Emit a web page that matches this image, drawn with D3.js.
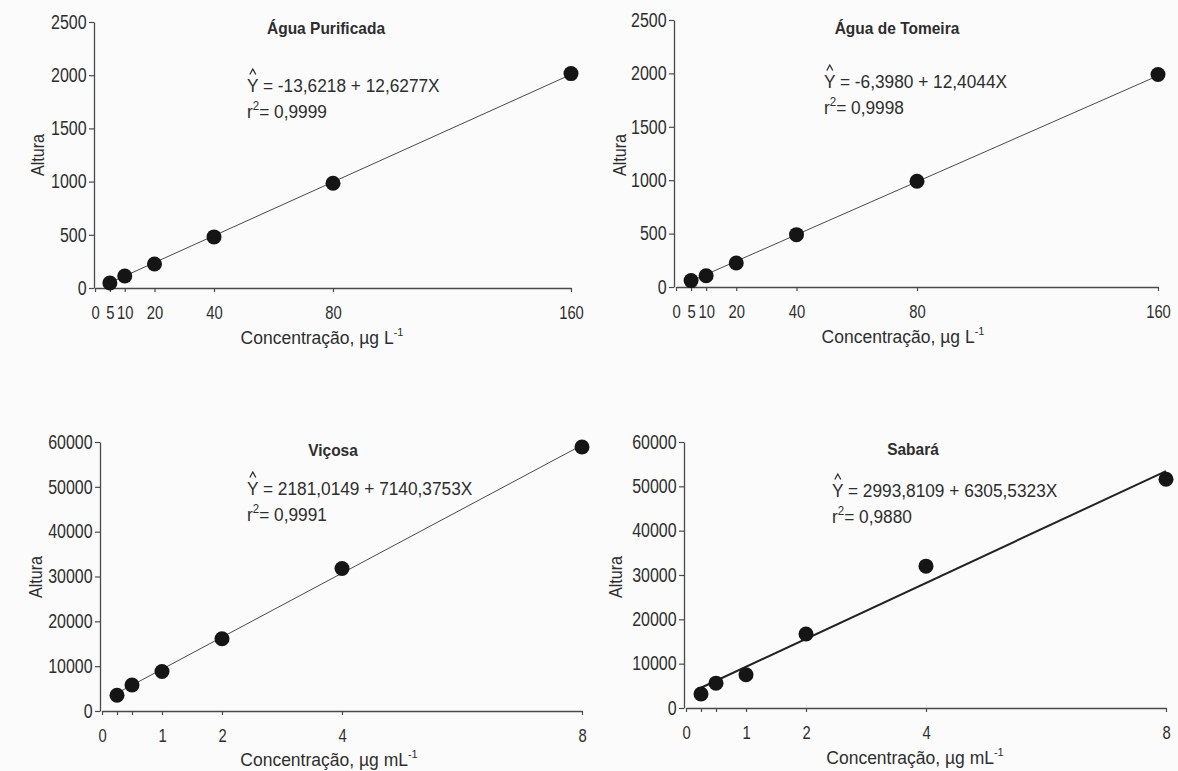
<!DOCTYPE html>
<html>
<head>
<meta charset="utf-8">
<script src="https://cdn.jsdelivr.net/npm/d3@7"></script>
<style>
  body { margin: 0; background: #fbfbfb; }
  svg { display: block; }
  text { font-family: "Liberation Sans", Arial, sans-serif; fill: #2e2e2e; }
  .domain, .tick line { stroke: #4a4a4a; }
</style>
</head>
<body>
<svg id="chart" width="1178" height="771"></svg>
<script>
// concentrations (x values)
const concL = [5, 10, 20, 40, 80, 160];
const concMl = [0.25, 0.5, 1, 2, 4, 8];

const puraY = [47, 113, 226, 480, 985, 2015];
const tomeiraY = [60, 105, 225, 490, 990, 1990];
const vicosaY = [3500, 5800, 8800, 16100, 31800, 58900];
const sabaraY = [3150, 5600, 7500, 16700, 32000, 51600];

// tick labels
const ticksL = [0, 5, 10, 20, 40, 80, 160];
const ticksMl = [0, 0.25, 0.5, 1, 2, 4, 8];
const labelsMl = [0, 1, 2, 4, 8];
const yTicksTop = [0, 500, 1000, 1500, 2000, 2500];
const yTicksBottom = [0, 10000, 20000, 30000, 40000, 50000, 60000];

// titles and fitted equations
const titles = ["Água Purificada", "Água de Tomeira", "Viçosa", "Sabará"];
const intercepts = [-13.6218, -6.3980, 2181.0149, 2993.8109];
const slopes = [12.6277, 12.4044, 7140.3753, 6305.5323];
const interceptTxt = ["-13,6218", "-6,3980", "2181,0149", "2993,8109"];
const slopeTxt = ["12,6277", "12,4044", "7140,3753", "6305,5323"];
const r2Txt = ["0,9999", "0,9998", "0,9991", "0,9880"];

const panels = [
  { xs: concL, ys: puraY, xMax: 160, yMax: 2500, xTicks: ticksL, xLabels: ticksL, yTicks: yTicksTop,
    unit: "L", ax: 94, px: [95, 571], py: [288, 22], eq: [247, 92], title: [326, 34],
    yl: [38, 155], xl: [322, 344], lw: 1 },
  { xs: concL, ys: tomeiraY, xMax: 160, yMax: 2500, xTicks: ticksL, xLabels: ticksL, yTicks: yTicksTop,
    unit: "L", ax: 674, px: [676, 1158], py: [287, 20], eq: [824, 88], title: [897, 34],
    yl: [620, 155], xl: [903, 343], lw: 1 },
  { xs: concMl, ys: vicosaY, xMax: 8, yMax: 60000, xTicks: ticksMl, xLabels: labelsMl, yTicks: yTicksBottom,
    unit: "mL", ax: 100, px: [102, 582], py: [711, 442], eq: [247, 495], title: [333, 456],
    yl: [36, 577], xl: [329, 766], lw: 1 },
  { xs: concMl, ys: sabaraY, xMax: 8, yMax: 60000, xTicks: ticksMl, xLabels: labelsMl, yTicks: yTicksBottom,
    unit: "mL", ax: 684, px: [686, 1166], py: [708, 442], eq: [832, 497], title: [913, 455],
    yl: [616, 577], xl: [915, 764], lw: 2 }
];

const svg = d3.select("#chart");

// text that is squeezed horizontally like the scanned figure's font
function label(parent, x, y, size, sx) {
  return parent.append("g")
    .attr("transform", `translate(${x},${y}) scale(${sx},1)`)
    .append("text")
    .style("font-size", size + "px");
}

panels.forEach((p, i) => {
  const x = d3.scaleLinear().domain([0, p.xMax]).range(p.px);
  const y = d3.scaleLinear().domain([0, p.yMax]).range(p.py);
  const g = svg.append("g");

  // axes
  g.append("g")
    .attr("transform", `translate(${p.ax},0)`)
    .call(d3.axisLeft(y).tickValues(p.yTicks).tickSize(5).tickSizeOuter(0).tickFormat(d3.format("d")))
    .call(a => a.selectAll("text").style("font-size", "19.5px").attr("x", -9).attr("transform", "scale(0.82,1)"));

  g.append("g")
    .attr("transform", `translate(0,${p.py[0]})`)
    .call(d3.axisBottom(x).tickValues(p.xTicks).tickSize(4).tickSizeOuter(0)
      .tickFormat(d => p.xLabels.includes(d) ? d : ""))
    .call(a => a.selectAll("text").style("font-size", "18.5px").attr("y", 18).attr("transform", "scale(0.8,1)"));

  g.selectAll(".domain").attr("stroke-width", 1.3);
  g.selectAll(".tick line").attr("stroke-width", 1.2);

  // regression line
  const x0 = p.xs[0], x1 = p.xs[p.xs.length - 1];
  g.append("line")
    .attr("x1", x(x0)).attr("y1", y(intercepts[i] + slopes[i] * x0))
    .attr("x2", x(x1)).attr("y2", y(intercepts[i] + slopes[i] * x1))
    .attr("stroke", p.lw > 1 ? "#222" : "#4a4a4a")
    .attr("stroke-width", p.lw);

  // points
  g.selectAll("circle")
    .data(p.xs.map((v, k) => [v, p.ys[k]]))
    .enter()
    .append("circle")
    .attr("cx", d => x(d[0]))
    .attr("cy", d => y(d[1]))
    .attr("r", 7.5)
    .style("fill", "#151515");

  // title
  label(g, p.title[0], p.title[1], 16, 0.97)
    .attr("text-anchor", "middle")
    .style("font-weight", "bold")
    .text(titles[i]);

  // equation, with a hat drawn over Y
  label(g, p.eq[0], p.eq[1], 18, 0.96)
    .text(`Y = ${interceptTxt[i]} + ${slopeTxt[i]}X`);
  const hx = p.eq[0] + 5.8, hy = p.eq[1];
  g.append("path")
    .attr("d", `M${hx - 3},${hy - 17.5}L${hx},${hy - 23}L${hx + 3},${hy - 17.5}`)
    .attr("fill", "none")
    .attr("stroke", "#2e2e2e")
    .attr("stroke-width", 1.3);

  const r2 = label(g, p.eq[0], p.eq[1] + 26, 18, 0.96);
  r2.append("tspan").text("r");
  r2.append("tspan").attr("dy", -8).style("font-size", "12px").text("2");
  r2.append("tspan").attr("dy", 8).text("= " + r2Txt[i]);

  // axis titles
  g.append("text")
    .attr("transform", `translate(${p.yl[0]},${p.yl[1]}) rotate(-90) scale(0.92,1)`)
    .attr("text-anchor", "middle")
    .attr("dy", "0.35em")
    .style("font-size", "17.5px")
    .text("Altura");

  const xt = label(g, p.xl[0], p.xl[1], 17.5, 1)
    .attr("text-anchor", "middle");
  xt.append("tspan").text(`Concentração, µg ${p.unit}`);
  xt.append("tspan").attr("dy", -8).style("font-size", "11px").text("-1");
});
</script>
</body>
</html>
